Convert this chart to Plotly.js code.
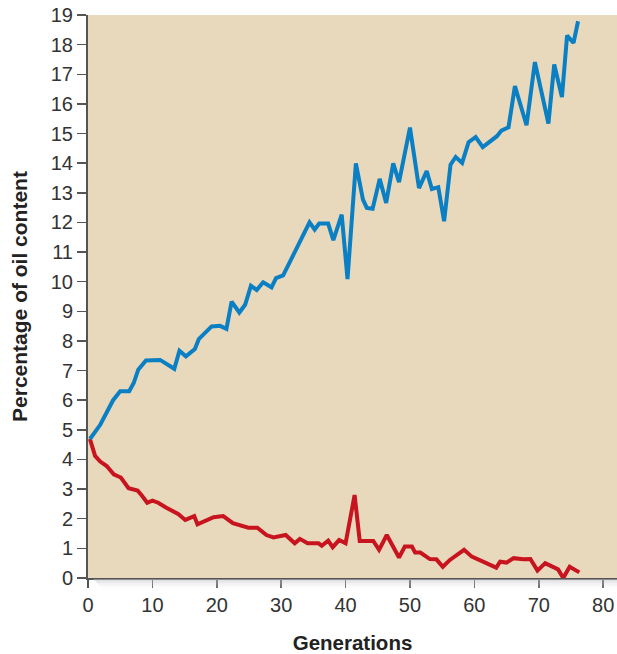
<!DOCTYPE html>
<html>
<head>
<meta charset="utf-8">
<script src="https://cdn.plot.ly/plotly-3.0.1.min.js"></script>
<style>
html,body{margin:0;padding:0;background:#fff;}
#chart{width:617px;height:654px;}
</style>
</head>
<body>
<div id="chart"></div>
<script>
// High-oil selection line
var highGen = [0.3, 1.9, 3.9, 5.0, 6.4, 7.1, 7.8, 9.0, 11.2, 13.4, 14.2, 15.2, 16.6, 17.2, 19.2, 20.5, 21.5, 22.3, 23.5, 24.4, 25.3, 26.2, 27.2, 28.5, 29.2, 30.3, 34.4, 35.2, 35.9, 37.3, 38.1, 39.4, 40.3, 41.6, 42.7, 43.3, 44.2, 45.3, 46.3, 47.4, 48.3, 50.0, 51.4, 52.6, 53.4, 54.4, 55.3, 56.3, 57.1, 58.1, 59.1, 60.2, 61.3, 63.5, 64.2, 65.3, 66.3, 68.1, 69.4, 71.5, 72.4, 73.6, 74.4, 75.4, 76.1];
var highOil = [4.69, 5.17, 6.0, 6.3, 6.3, 6.58, 7.03, 7.34, 7.36, 7.06, 7.67, 7.48, 7.73, 8.06, 8.49, 8.51, 8.41, 9.33, 8.96, 9.22, 9.86, 9.72, 9.98, 9.81, 10.12, 10.21, 12.0, 11.76, 11.96, 11.96, 11.4, 12.26, 10.09, 13.99, 12.77, 12.49, 12.46, 13.47, 12.66, 13.99, 13.36, 15.2, 13.16, 13.73, 13.13, 13.19, 12.04, 13.95, 14.21, 14.01, 14.71, 14.88, 14.54, 14.91, 15.1, 15.21, 16.6, 15.28, 17.41, 15.34, 17.33, 16.23, 18.31, 18.06, 18.79];

// Low-oil selection line
var lowGen = [0.3, 1.1, 1.9, 2.9, 4.0, 5.1, 6.3, 7.7, 8.3, 9.2, 10.0, 10.9, 12.1, 14.0, 15.1, 16.5, 17.0, 19.5, 21.0, 22.5, 24.9, 26.3, 27.7, 28.8, 30.7, 32.1, 32.9, 34.1, 35.8, 36.3, 37.3, 38.0, 39.0, 40.0, 41.4, 42.2, 44.3, 45.2, 46.4, 48.3, 49.2, 50.3, 50.8, 51.6, 53.1, 54.1, 55.1, 56.2, 58.4, 59.6, 63.4, 64.0, 65.0, 66.1, 67.6, 68.7, 69.8, 71.0, 73.0, 73.8, 74.8, 76.3];
var lowOil = [4.69, 4.12, 3.93, 3.78, 3.5, 3.39, 3.03, 2.95, 2.8, 2.54, 2.61, 2.54, 2.38, 2.16, 1.96, 2.09, 1.81, 2.05, 2.09, 1.85, 1.7, 1.7, 1.45, 1.37, 1.45, 1.17, 1.32, 1.17, 1.17, 1.09, 1.26, 1.04, 1.28, 1.17, 2.8, 1.25, 1.25, 0.95, 1.45, 0.69, 1.06, 1.06, 0.86, 0.86, 0.64, 0.63, 0.38, 0.61, 0.95, 0.72, 0.35, 0.55, 0.52, 0.67, 0.63, 0.64, 0.25, 0.5, 0.29, 0.0, 0.38, 0.19];

var xTicks = [0, 10, 20, 30, 40, 50, 60, 70, 80];
var yTicks = [0,1,2,3,4,5,6,7,8,9,10,11,12,13,14,15,16,17,18,19];

var traces = [
  {x: lowGen, y: lowOil, type: 'scatter', mode: 'lines',
   line: {color: '#c8141e', width: 4, shape: 'linear'}, cliponaxis: false, hoverinfo: 'none'},
  {x: highGen, y: highOil, type: 'scatter', mode: 'lines',
   line: {color: '#0a7fc4', width: 4, shape: 'linear'}, cliponaxis: false, hoverinfo: 'none'}
];

// soft shadow under the x axis
var shadowSvg = '<svg xmlns="http://www.w3.org/2000/svg" width="529" height="12" viewBox="0 0 529 12" preserveAspectRatio="none">' +
  '<defs><linearGradient id="g" x1="0" y1="0" x2="0" y2="1">' +
  '<stop offset="0" stop-color="#b8b8c0" stop-opacity="0.55"/><stop offset="1" stop-color="#ffffff" stop-opacity="0"/></linearGradient></defs>' +
  '<polygon points="5,0 529,0 529,12 17,12" fill="url(#g)"/></svg>';
var shadowSrc = 'data:image/svg+xml;base64,' + btoa(shadowSvg);

var font = 'Liberation Sans, Arial, Helvetica, sans-serif';
var layout = {
  width: 617, height: 654,
  margin: {l: 88, r: 0, t: 15, b: 76, pad: 0},
  paper_bgcolor: '#ffffff',
  plot_bgcolor: '#e9d9bc',
  showlegend: false,
  font: {family: font, color: '#333333', size: 20},
  images: [{source: shadowSrc, xref: 'paper', yref: 'paper', x: 0, y: -1 / 563,
            sizex: 1, sizey: 12 / 563, xanchor: 'left', yanchor: 'top',
            sizing: 'stretch', layer: 'above'}],
  xaxis: {
    range: [0, 82.15], tickvals: xTicks, ticktext: xTicks.map(String),
    showgrid: false, zeroline: false, showline: true, linecolor: '#555555', linewidth: 2,
    ticks: 'outside', ticklen: 8, tickwidth: 1.5, tickcolor: '#555555',
    tickfont: {size: 20, color: '#333333', family: font},
    title: {text: '<b>Generations</b>', font: {size: 20.5, color: '#222222', family: font}, standoff: 22}
  },
  yaxis: {
    range: [0, 19], tickvals: yTicks, ticktext: yTicks.map(String),
    showgrid: false, zeroline: false, showline: true, linecolor: '#555555', linewidth: 2,
    ticks: 'outside', ticklen: 9, tickwidth: 1.5, tickcolor: '#555555',
    tickfont: {size: 20, color: '#333333', family: font},
    title: {text: '<b>Percentage of oil content</b>', font: {size: 21, color: '#222222', family: font}, standoff: 17}
  }
};

Plotly.newPlot('chart', traces, layout, {staticPlot: true, displayModeBar: false});
</script>
</body>
</html>
